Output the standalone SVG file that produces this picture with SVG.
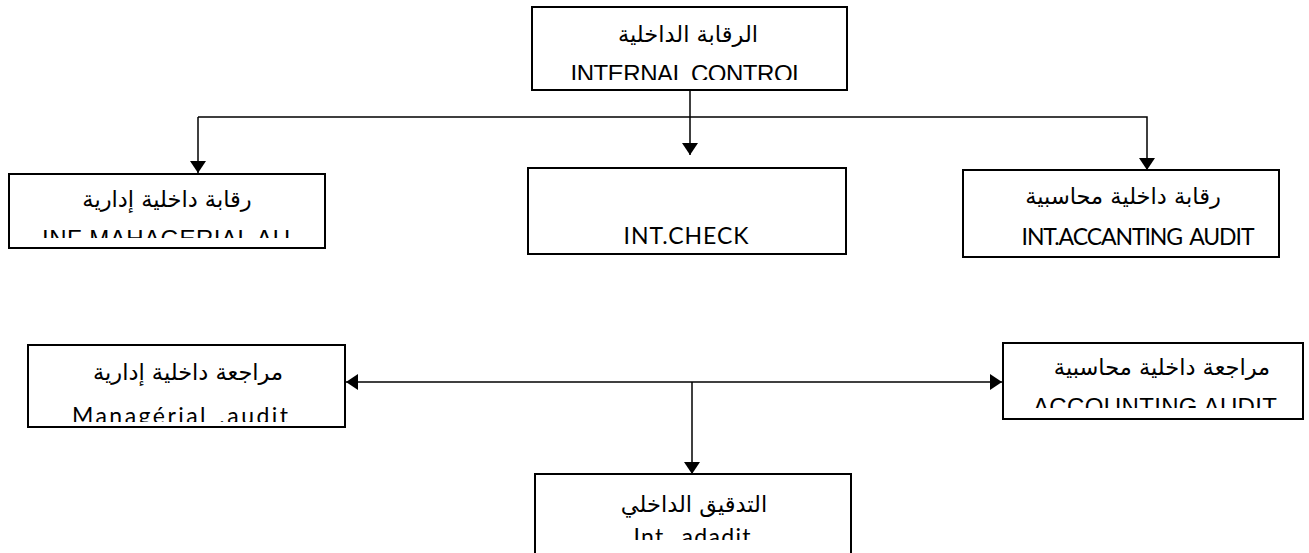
<svg xmlns="http://www.w3.org/2000/svg" width="1309" height="553" viewBox="0 0 1309 553">
  <defs>
    <marker id="arrow" viewBox="0 0 12 16" refX="12" refY="8" markerWidth="13" markerHeight="16" markerUnits="userSpaceOnUse" orient="auto-start-reverse">
      <path d="M0,0 L12,8 L0,16 Z" fill="#000"/>
    </marker>
    <clipPath id="clip-top"><rect x="534" y="9" width="311" height="71"/></clipPath>
    <clipPath id="clip-mgr"><rect x="11" y="176" width="312" height="62"/></clipPath>
    <clipPath id="clip-mgr-audit"><rect x="30" y="347" width="313" height="75"/></clipPath>
    <clipPath id="clip-acc-audit"><rect x="1005" y="345" width="296" height="63"/></clipPath>
    <clipPath id="clip-int"><rect x="537" y="475" width="312" height="65"/></clipPath>
  </defs>
  <style>
    .box { fill: #fff; stroke: #000; stroke-width: 2; }
    .conn { fill: none; stroke: #000; stroke-width: 1.5; }
    .ar { font-family: "DejaVu Sans", "Liberation Sans", sans-serif; font-size: 22.5px; fill: #000; text-anchor: middle; }
    .en { font-family: "Liberation Sans", Arial, sans-serif; font-size: 24px; fill: #000; text-anchor: middle; }
    .cal { font-family: Lato, "Open Sans", sans-serif; font-size: 23px; fill: #000; text-anchor: middle; word-spacing: 3px; }
  </style>

  <!-- connectors -->
  <g id="connectors">
    <line class="conn" x1="690" y1="90" x2="690" y2="155" marker-end="url(#arrow)"/>
    <polyline class="conn" points="198,117 1147,117 1147,170" marker-end="url(#arrow)"/>
    <line class="conn" x1="198" y1="117" x2="198" y2="173" marker-end="url(#arrow)"/>
    <line class="conn" x1="346" y1="382" x2="1002" y2="382" marker-start="url(#arrow)" marker-end="url(#arrow)"/>
    <line class="conn" x1="692" y1="382" x2="692" y2="474" marker-end="url(#arrow)"/>
  </g>

  <!-- internal control -->
  <g id="internal-control">
    <rect class="box" x="532" y="7" width="315" height="83"/>
    <text class="ar" x="688" y="42">الرقابة الداخلية</text>
    <text class="en" x="688" y="82" textLength="235" clip-path="url(#clip-top)">INTERNAL CONTROL</text>
  </g>

  <!-- managerial control -->
  <g id="managerial-control">
    <rect class="box" x="9" y="174" width="316" height="74"/>
    <text class="ar" x="167" y="207">رقابة داخلية إدارية</text>
    <text class="en" x="166" y="247" textLength="248" clip-path="url(#clip-mgr)">INF MAHAGERIAL AU</text>
  </g>

  <!-- internal check -->
  <g id="internal-check">
    <rect class="box" x="528" y="168" width="318" height="86"/>
    <text class="cal" x="686" y="244" textLength="125">INT.CHECK</text>
  </g>

  <!-- accounting control -->
  <g id="accounting-control">
    <rect class="box" x="963" y="170" width="316" height="87"/>
    <text class="ar" x="1123" y="204">رقابة داخلية محاسبية</text>
    <text class="cal" x="1138" y="245" font-size="21.5" textLength="233">INT.ACCANTING AUDIT</text>
  </g>

  <!-- managerial audit -->
  <g id="managerial-audit">
    <rect class="box" x="28" y="345" width="317" height="82"/>
    <text class="ar" x="188" y="380">مراجعة داخلية إدارية</text>
    <text class="cal" x="180" y="424" font-size="25" textLength="216" clip-path="url(#clip-mgr-audit)">Managérial .audit</text>
  </g>

  <!-- accounting audit -->
  <g id="accounting-audit">
    <rect class="box" x="1003" y="343" width="300" height="76"/>
    <text class="ar" x="1162" y="375">مراجعة داخلية محاسبية</text>
    <text class="en" x="1155" y="415" textLength="244" clip-path="url(#clip-acc-audit)">ACCOUNTING AUDIT</text>
  </g>

  <!-- internal audit -->
  <g id="internal-audit">
    <rect class="box" x="535" y="474" width="316" height="90"/>
    <text class="ar" x="694" y="512">التدقيق الداخلي</text>
    <text class="cal" x="692" y="545" textLength="117" clip-path="url(#clip-int)">Int. adadit</text>
  </g>
</svg>
